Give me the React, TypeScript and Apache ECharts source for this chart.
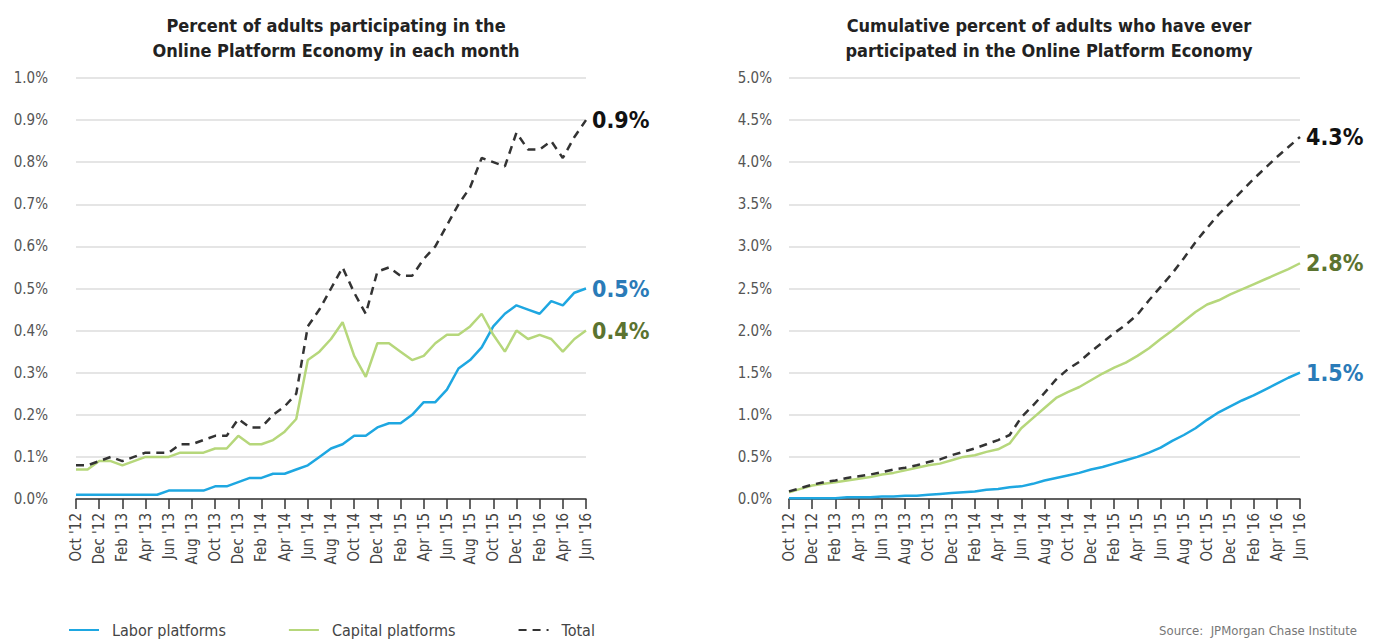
import React, { useEffect, useRef } from "react";
import * as echarts from "echarts";

const months = [
  "Oct '12", "Nov '12", "Dec '12",
  "Jan '13", "Feb '13", "Mar '13", "Apr '13", "May '13", "Jun '13", "Jul '13", "Aug '13", "Sep '13", "Oct '13", "Nov '13", "Dec '13",
  "Jan '14", "Feb '14", "Mar '14", "Apr '14", "May '14", "Jun '14", "Jul '14", "Aug '14", "Sep '14", "Oct '14", "Nov '14", "Dec '14",
  "Jan '15", "Feb '15", "Mar '15", "Apr '15", "May '15", "Jun '15", "Jul '15", "Aug '15", "Sep '15", "Oct '15", "Nov '15", "Dec '15",
  "Jan '16", "Feb '16", "Mar '16", "Apr '16", "May '16", "Jun '16",
];

// Monthly participation (%)
const monthlyLabor = [
  0.01, 0.01, 0.01, 0.01, 0.01, 0.01, 0.01, 0.01, 0.02, 0.02, 0.02, 0.02, 0.03, 0.03, 0.04,
  0.05, 0.05, 0.06, 0.06, 0.07, 0.08, 0.10, 0.12, 0.13, 0.15, 0.15, 0.17,
  0.18, 0.18, 0.20, 0.23, 0.23, 0.26, 0.31, 0.33, 0.36, 0.41, 0.44, 0.46,
  0.45, 0.44, 0.47, 0.46, 0.49, 0.50,
];
const monthlyCapital = [
  0.07, 0.07, 0.09, 0.09, 0.08, 0.09, 0.10, 0.10, 0.10, 0.11, 0.11, 0.11, 0.12, 0.12, 0.15,
  0.13, 0.13, 0.14, 0.16, 0.19, 0.33, 0.35, 0.38, 0.42, 0.34, 0.29, 0.37,
  0.37, 0.35, 0.33, 0.34, 0.37, 0.39, 0.39, 0.41, 0.44, 0.39, 0.35, 0.40,
  0.38, 0.39, 0.38, 0.35, 0.38, 0.40,
];
const monthlyTotal = [
  0.08, 0.08, 0.09, 0.10, 0.09, 0.10, 0.11, 0.11, 0.11, 0.13, 0.13, 0.14, 0.15, 0.15, 0.19,
  0.17, 0.17, 0.20, 0.22, 0.25, 0.41, 0.45, 0.50, 0.55, 0.49, 0.44, 0.54,
  0.55, 0.53, 0.53, 0.57, 0.60, 0.65, 0.70, 0.74, 0.81, 0.80, 0.79, 0.87,
  0.83, 0.83, 0.85, 0.81, 0.86, 0.90,
];

// Cumulative participation (%)
const cumLabor = [
  0.01, 0.01, 0.01, 0.01, 0.01, 0.02, 0.02, 0.02, 0.03, 0.03, 0.04, 0.04, 0.05, 0.06, 0.07,
  0.08, 0.09, 0.11, 0.12, 0.14, 0.15, 0.18, 0.22, 0.25, 0.28, 0.31, 0.35,
  0.38, 0.42, 0.46, 0.50, 0.55, 0.61, 0.69, 0.76, 0.84, 0.94, 1.03, 1.10,
  1.17, 1.23, 1.30, 1.37, 1.44, 1.50,
];
const cumCapital = [
  0.08, 0.12, 0.16, 0.18, 0.20, 0.22, 0.24, 0.26, 0.29, 0.31, 0.34, 0.37, 0.40, 0.42, 0.46,
  0.50, 0.52, 0.56, 0.59, 0.66, 0.84, 0.96, 1.08, 1.20, 1.27, 1.33, 1.41,
  1.49, 1.56, 1.62, 1.70, 1.79, 1.90, 2.00, 2.11, 2.22, 2.31, 2.36, 2.43,
  2.49, 2.55, 2.61, 2.67, 2.73, 2.80,
];
const cumTotal = [
  0.09, 0.13, 0.17, 0.20, 0.22, 0.25, 0.27, 0.29, 0.32, 0.35, 0.37, 0.40, 0.44, 0.47, 0.52,
  0.56, 0.60, 0.65, 0.70, 0.76, 0.97, 1.11, 1.26, 1.42, 1.54, 1.63, 1.75,
  1.86, 1.97, 2.07, 2.19, 2.36, 2.52, 2.68, 2.86, 3.05, 3.22, 3.38, 3.52,
  3.66, 3.80, 3.93, 4.06, 4.18, 4.30,
];

const seriesNames = ["Labor platforms", "Capital platforms", "Total"];
const leftTitle = "Percent of adults participating in the\nOnline Platform Economy in each month";
const rightTitle = "Cumulative percent of adults who have ever\nparticipated in the Online Platform Economy";
const sourceText = "Source:  JPMorgan Chase Institute";

const FONT = "'Liberation Sans Narrow', 'DejaVu Sans Condensed', 'Roboto', sans-serif";
const BLUE = "#1ea7e1";
const GREEN = "#b6d77b";
const DARK = "#333333";
const BLUE_LABEL = "#2a7bb8";
const GREEN_LABEL = "#5b7330";
const BLACK_LABEL = "#111111";

function lineSeries(name: string, data: number[], idx: number, color: string, labelColor: string, dashed: boolean) {
  return {
    name,
    type: "line",
    xAxisIndex: idx,
    yAxisIndex: idx,
    data,
    symbol: "none",
    lineStyle: { color, width: 2.5, type: dashed ? [8, 6] : "solid" },
    itemStyle: { color },
    endLabel: {
      show: true,
      formatter: (p: any) => Number(p.value).toFixed(1) + "%",
      color: labelColor,
      fontSize: 23,
      fontWeight: "bold",
      fontFamily: FONT,
      distance: 6,
    },
    z: dashed ? 5 : 3,
  };
}

function xAxis(gridIndex: number) {
  return {
    type: "category",
    gridIndex,
    data: months,
    boundaryGap: false,
    axisLine: { show: true, lineStyle: { color: "#333", width: 1.5 } },
    axisTick: { show: true, interval: 1, length: 10, lineStyle: { color: "#333", width: 1.5 } },
    axisLabel: {
      interval: 1,
      rotate: 90,
      margin: 14,
      color: "#444",
      fontSize: 15,
      fontFamily: FONT,
    },
    splitLine: { show: false },
  };
}

function yAxis(gridIndex: number, max: number, interval: number, margin: number) {
  return {
    type: "value",
    gridIndex,
    min: 0,
    max,
    interval,
    axisLine: { show: false },
    axisTick: { show: false },
    axisLabel: {
      margin,
      color: "#555",
      fontSize: 15,
      fontFamily: FONT,
      formatter: (v: number) => v.toFixed(1) + "%",
    },
    splitLine: { show: true, lineStyle: { color: "#dcdcdc", width: 1.5 } },
  };
}

export default function App() {
  const ref = useRef<HTMLDivElement>(null);
  useEffect(() => {
    if (!ref.current) return;
    const chart = echarts.init(ref.current, undefined, { renderer: "svg" });
    chart.setOption({
      animation: false,
      backgroundColor: "#ffffff",
      textStyle: { fontFamily: FONT },
      title: [
        {
          text: leftTitle,
          left: 331,
          top: 8,
          textAlign: "center",
          textStyle: { fontSize: 18, fontWeight: "bold", color: "#222", lineHeight: 25, fontFamily: FONT },
        },
        {
          text: rightTitle,
          left: 1044,
          top: 8,
          textAlign: "center",
          textStyle: { fontSize: 18, fontWeight: "bold", color: "#222", lineHeight: 25, fontFamily: FONT },
        },
      ],
      grid: [
        { left: 76, right: 788, top: 78, bottom: 143, containLabel: false },
        { left: 789, right: 74, top: 78, bottom: 143, containLabel: false },
      ],
      xAxis: [xAxis(0), xAxis(1)],
      yAxis: [yAxis(0, 1.0, 0.1, 28), yAxis(1, 5.0, 0.5, 17)],
      legend: {
        data: seriesNames,
        left: 68,
        top: 621,
        itemWidth: 30,
        itemHeight: 10,
        itemGap: 62,
        padding: 0,
        itemStyle: { opacity: 0, borderWidth: 0 },
        textStyle: { fontSize: 16, lineHeight: 18, color: "#444", fontFamily: FONT, padding: [0, 0, 0, 8] },
      },
      graphic: [
        {
          type: "text",
          right: 17,
          top: 624,
          style: { text: sourceText, fontSize: 13, fill: "#777", fontFamily: FONT },
        },
      ],
      series: [
        lineSeries(seriesNames[0], monthlyLabor, 0, BLUE, BLUE_LABEL, false),
        lineSeries(seriesNames[1], monthlyCapital, 0, GREEN, GREEN_LABEL, false),
        lineSeries(seriesNames[2], monthlyTotal, 0, DARK, BLACK_LABEL, true),
        lineSeries(seriesNames[0], cumLabor, 1, BLUE, BLUE_LABEL, false),
        lineSeries(seriesNames[1], cumCapital, 1, GREEN, GREEN_LABEL, false),
        lineSeries(seriesNames[2], cumTotal, 1, DARK, BLACK_LABEL, true),
      ],
    });
    return () => chart.dispose();
  }, []);
  return (
    <div
      ref={ref}
      style={{ position: "fixed", left: 0, top: 0, width: 1374, height: 642 }}
    />
  );
}
